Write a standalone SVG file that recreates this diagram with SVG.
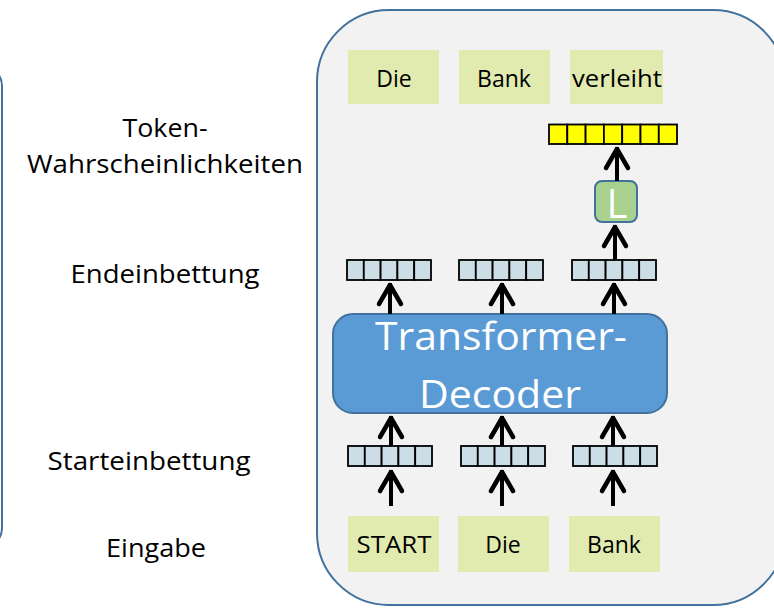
<svg xmlns="http://www.w3.org/2000/svg" width="774" height="610" viewBox="0 0 774 610">
<style>
text{font-family:"Open Sans","Noto Sans","Liberation Sans",sans-serif;}
.lbl{font-size:25px;fill:#000;text-anchor:middle;}
.tok{font-size:23px;fill:#000;text-anchor:middle;}
.tokbox{fill:#e1ebb0;}
.cell{fill:#cddde6;stroke:#000;stroke-width:1.8;}
.ycell{fill:#ffff00;stroke:#000;stroke-width:1.8;}
.arr{stroke:#000;stroke-width:4;fill:none;marker-end:url(#ah);}
.panel{fill:#f2f2f2;stroke:#41719c;stroke-width:2;}
</style>
<defs>
<marker id="ah" markerUnits="userSpaceOnUse" markerWidth="30" markerHeight="30" refX="2" refY="0" viewBox="-24 -15 30 30" orient="auto" overflow="visible">
<path d="M-19,-11 L0,0 L-19,11" fill="none" stroke="#000" stroke-width="4.5" stroke-linecap="round" stroke-linejoin="round"/>
</marker>
<g id="vec5">
<rect class="cell" x="0" y="0" width="16.8" height="20"/>
<rect class="cell" x="16.8" y="0" width="16.8" height="20"/>
<rect class="cell" x="33.6" y="0" width="16.8" height="20"/>
<rect class="cell" x="50.4" y="0" width="16.8" height="20"/>
<rect class="cell" x="67.2" y="0" width="16.8" height="20"/>
</g>
</defs>
<rect width="774" height="610" fill="#ffffff"/>
<g id="left-panel"><rect x="-100" y="66" width="102" height="482" rx="20" fill="#ffffff" stroke="#41719c" stroke-width="2"/></g>
<g id="main-panel"><rect class="panel" x="317" y="10" width="468" height="595" rx="72"/></g>

<g id="labels">
<text class="lbl" x="165" y="137" textLength="85" lengthAdjust="spacingAndGlyphs">Token-</text>
<text class="lbl" x="165" y="173" textLength="276" lengthAdjust="spacingAndGlyphs">Wahrscheinlichkeiten</text>
<text class="lbl" x="165" y="283" textLength="189" lengthAdjust="spacingAndGlyphs">Endeinbettung</text>
<text class="lbl" x="149" y="470" textLength="203" lengthAdjust="spacingAndGlyphs">Starteinbettung</text>
<text class="lbl" x="156" y="557" textLength="100" lengthAdjust="spacingAndGlyphs">Eingabe</text>
</g>

<g id="out-die"><rect class="tokbox" x="348" y="50" width="91" height="54"/><text class="tok" x="394" y="87">Die</text></g>
<g id="out-bank"><rect class="tokbox" x="459" y="50" width="91" height="54"/><text class="tok" x="504" y="87">Bank</text></g>
<g id="out-verleiht"><rect class="tokbox" x="570" y="50" width="93" height="54"/><text class="tok" x="617" y="87" textLength="90" lengthAdjust="spacingAndGlyphs">verleiht</text></g>

<g id="probs">
<rect class="ycell" x="549" y="124.5" width="18.3" height="19.5"/>
<rect class="ycell" x="567.3" y="124.5" width="18.3" height="19.5"/>
<rect class="ycell" x="585.6" y="124.5" width="18.3" height="19.5"/>
<rect class="ycell" x="603.9" y="124.5" width="18.3" height="19.5"/>
<rect class="ycell" x="622.2" y="124.5" width="18.3" height="19.5"/>
<rect class="ycell" x="640.5" y="124.5" width="18.3" height="19.5"/>
<rect class="ycell" x="658.8" y="124.5" width="18.2" height="19.5"/>
</g>

<g id="L-box">
<rect x="595" y="181" width="42" height="41" rx="7" fill="#a9d18e" stroke="#41719c" stroke-width="2"/>
<text x="617" y="218" font-size="40" fill="#ffffff" text-anchor="middle">L</text>
</g>

<g id="end-emb1"><use href="#vec5" x="347" y="260"/></g>
<g id="end-emb2"><use href="#vec5" x="459" y="260"/></g>
<g id="end-emb3"><use href="#vec5" x="572" y="260"/></g>

<g id="decoder">
<rect x="333" y="314" width="334" height="99" rx="20" fill="#5b9bd5" stroke="#41719c" stroke-width="2"/>
<text x="501" y="350" font-size="38" fill="#ffffff" text-anchor="middle" textLength="252" lengthAdjust="spacingAndGlyphs">Transformer-</text>
<text x="500" y="408" font-size="38" fill="#ffffff" text-anchor="middle" textLength="162" lengthAdjust="spacingAndGlyphs">Decoder</text>
</g>

<g id="start-emb1"><use href="#vec5" x="348" y="446"/></g>
<g id="start-emb2"><use href="#vec5" x="461" y="446"/></g>
<g id="start-emb3"><use href="#vec5" x="573" y="446"/></g>

<g id="in-start"><rect class="tokbox" x="348" y="516" width="91" height="56"/><text class="tok" x="394" y="553" textLength="75" lengthAdjust="spacingAndGlyphs">START</text></g>
<g id="in-die"><rect class="tokbox" x="458" y="516" width="91" height="56"/><text class="tok" x="503" y="553">Die</text></g>
<g id="in-bank"><rect class="tokbox" x="569" y="516" width="91" height="56"/><text class="tok" x="614" y="553">Bank</text></g>

<g id="connectors">
<path class="arr" d="M391,506 V470"/>
<path class="arr" d="M502,506 V470"/>
<path class="arr" d="M613,506 V470"/>
<path class="arr" d="M391,446 V416"/>
<path class="arr" d="M502,446 V416"/>
<path class="arr" d="M613,446 V416"/>
<path class="arr" d="M390,314 V283"/>
<path class="arr" d="M502,314 V283"/>
<path class="arr" d="M614,314 V283"/>
<path class="arr" d="M615,260 V225"/>
<path class="arr" d="M617,181 V147"/>
</g>
</svg>
